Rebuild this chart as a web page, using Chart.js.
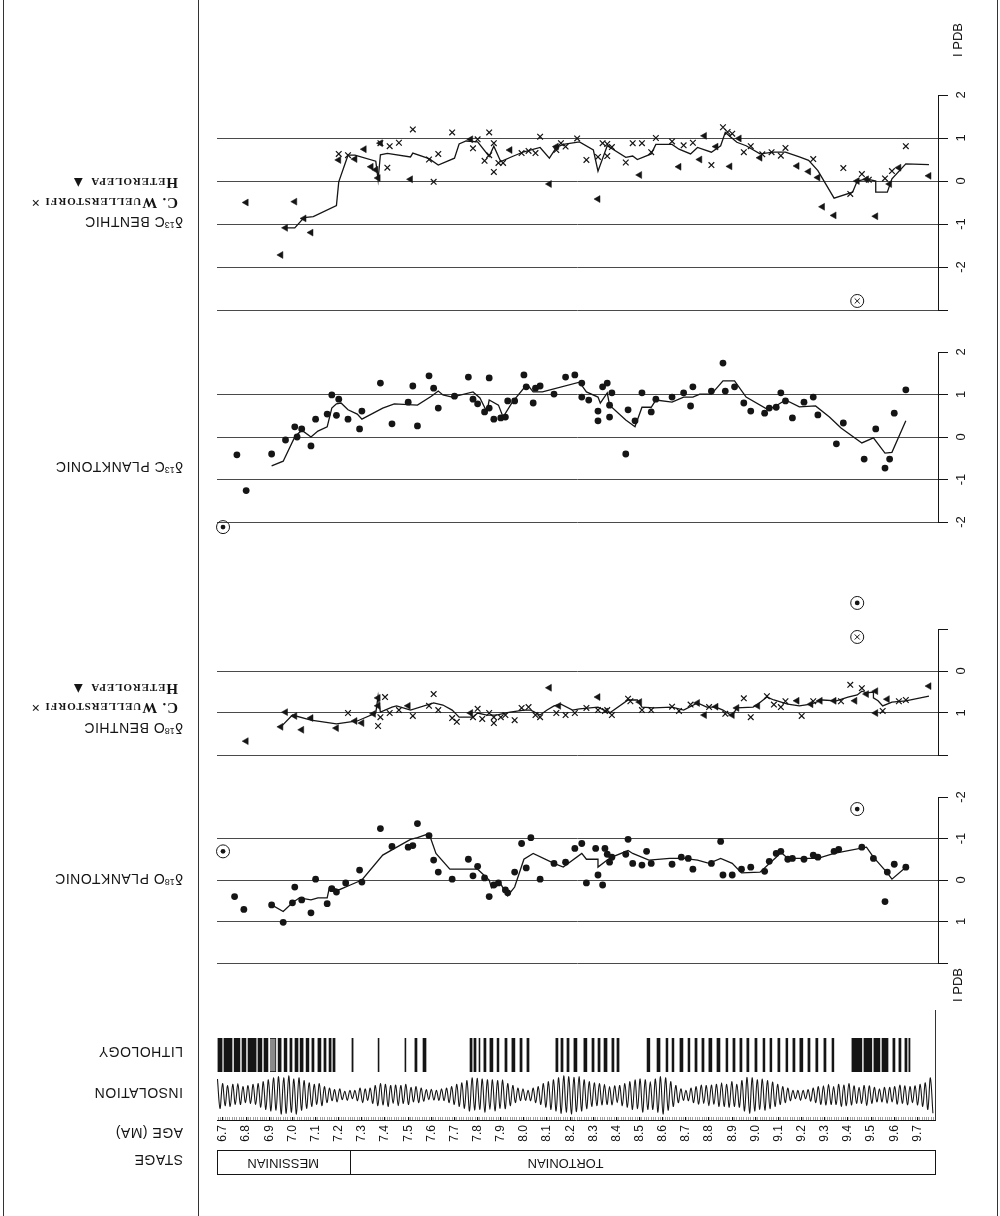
<!DOCTYPE html>
<html lang="en">
<head>
<meta charset="utf-8">
<title>Late Miocene stable isotope record</title>
<script src="https://cdn.jsdelivr.net/npm/chart.js@4.4.1/dist/chart.umd.min.js"></script>
<style>
  html, body { margin:0; padding:0; background:#fff; }
  #page { position:relative; width:1000px; height:1216px; overflow:hidden; background:#fff;
          font-family:"Liberation Sans", Arial, Helvetica, sans-serif; color:#151515; }
  #page canvas { position:absolute; left:0; }
  .rule { position:absolute; background:#333; }
  .side { position:absolute; left:0; width:183px; height:20px; line-height:20px;
          transform:rotate(180deg); white-space:nowrap; text-align:left; font-size:14px; letter-spacing:0.5px; }
  .side sup { font-size:9px; vertical-align:5px; letter-spacing:0; }
  .key { font-family:"Liberation Serif", "DejaVu Serif", serif; font-variant:small-caps; font-weight:bold;
         font-size:15px; letter-spacing:0.9px; width:178px; }
  .unit { position:absolute; width:60px; height:16px; line-height:16px; text-align:center;
          transform:rotate(-90deg); font-size:13px; }
</style>
</head>
<body>
<div id="page">
  <div class="rule" style="left:3px;top:0;width:1px;height:1216px"></div>
  <div class="rule" style="left:198px;top:0;width:1px;height:1216px"></div>
  <div class="rule" style="left:997px;top:0;width:1px;height:1216px"></div>
  <div class="rule" style="left:935px;top:1010px;width:1px;height:111px"></div>

  <canvas id="c13b" width="1000" height="265" style="top:55px"></canvas>
  <canvas id="c13p" width="1000" height="230" style="top:320px"></canvas>
  <canvas id="o18b" width="1000" height="185" style="top:585px"></canvas>
  <canvas id="o18p" width="1000" height="195" style="top:780px"></canvas>
  <canvas id="litho" width="1000" height="50" style="top:1030px"></canvas>
  <canvas id="insol" width="1000" height="50" style="top:1070px"></canvas>
  <canvas id="age" width="1000" height="100" style="top:1100px"></canvas>

  <div class="side key" style="top:173px">Heterolepa &#9650;</div>
  <div class="side key" style="top:193px">C. Wuellerstorfi &#215;</div>
  <div class="side" style="top:215px">&#948;<sup>13</sup>C BENTHIC</div>
  <div class="side" style="top:460px">&#948;<sup>13</sup>C PLANKTONIC</div>
  <div class="side key" style="top:679px">Heterolepa &#9650;</div>
  <div class="side key" style="top:698px">C. Wuellerstorfi &#215;</div>
  <div class="side" style="top:721px">&#948;<sup>18</sup>O BENTHIC</div>
  <div class="side" style="top:872px">&#948;<sup>18</sup>O PLANKTONIC</div>
  <div class="side" style="top:1042px">LITHOLOGY</div>
  <div class="side" style="top:1083px">INSOLATION</div>
  <div class="side" style="top:1123px">AGE (MA)</div>
  <div class="side" style="top:1150px">STAGE</div>

  <div class="unit" style="left:928px;top:32px">I PDB</div>
  <div class="unit" style="left:928px;top:977px">I PDB</div>
</div>

<script>
// ---- age range of all panels (Ma) ----
const AGE_MIN = 6.674;
const AGE_MAX = 9.789;

// ---- delta 13C, benthic foraminifera ----
const c13BenthicWuellerstorfi = [
  [7.20,0.63],[7.24,0.60],[7.38,0.88],[7.41,0.31],[7.42,0.81],[7.46,0.89],[7.52,1.20],[7.59,0.50],
  [7.61,-0.02],[7.63,0.63],[7.69,1.13],[7.78,0.76],[7.80,0.97],[7.83,0.47],[7.85,1.13],[7.85,0.60],
  [7.87,0.88],[7.87,0.21],[7.89,0.42],[7.91,0.42],[7.99,0.65],[8.02,0.70],[8.05,0.65],[8.07,1.03],
  [8.14,0.72],[8.16,0.88],[8.18,0.80],[8.23,0.99],[8.27,0.49],[8.32,0.56],[8.34,0.88],[8.36,0.86],
  [8.36,0.58],[8.38,0.79],[8.44,0.43],[8.47,0.88],[8.51,0.88],[8.55,0.67],[8.57,1.00],[8.64,0.92],
  [8.69,0.83],[8.73,0.89],[8.81,0.37],[8.86,1.25],[8.88,1.14],[8.90,1.10],[8.95,0.67],[8.98,0.81],
  [9.03,0.62],[9.07,0.67],[9.11,0.59],[9.13,0.77],[9.25,0.51],[9.38,0.30],[9.41,-0.30],[9.46,0.16],
  [9.49,0.03],[9.56,0.06],[9.59,0.23],[9.65,0.81]
];
const c13BenthicHeterolepa = [
  [6.80,-0.50],[6.95,-1.72],[6.97,-1.09],[7.01,-0.48],[7.05,-0.87],[7.08,-1.20],[7.20,0.49],[7.27,0.51],
  [7.31,0.74],[7.34,0.33],[7.36,0.26],[7.37,0.07],[7.38,0.88],[7.51,0.04],[7.77,0.97],[7.94,0.72],
  [8.11,-0.07],[8.14,0.80],[8.32,-0.42],[8.50,0.14],[8.67,0.33],[8.76,0.50],[8.78,1.05],[8.83,0.80],
  [8.89,0.34],[8.93,0.99],[9.02,0.54],[9.18,0.35],[9.23,0.22],[9.27,0.08],[9.29,-0.60],[9.34,-0.80],
  [9.44,0.00],[9.48,0.04],[9.52,-0.82],[9.58,-0.07],[9.62,0.31],[9.75,0.12]
];
const c13BenthicMean = [
  [6.97,-1.09],[7.01,-1.09],[7.05,-0.85],[7.09,-0.83],[7.19,-0.57],[7.20,-0.02],[7.24,0.60],[7.27,0.60],
  [7.36,0.46],[7.37,0.03],[7.38,0.61],[7.41,0.64],[7.51,0.56],[7.52,0.65],[7.59,0.52],[7.63,0.37],
  [7.70,0.53],[7.72,0.86],[7.75,0.93],[7.80,0.91],[7.85,0.57],[7.87,0.81],[7.90,0.45],[7.95,0.57],
  [8.00,0.68],[8.07,0.78],[8.11,0.53],[8.14,0.78],[8.17,0.85],[8.24,0.91],[8.30,0.72],[8.32,0.23],
  [8.36,0.82],[8.44,0.55],[8.47,0.58],[8.49,0.50],[8.55,0.63],[8.57,0.85],[8.64,0.85],[8.67,0.74],
  [8.72,0.63],[8.75,0.78],[8.81,0.67],[8.85,0.82],[8.87,1.13],[8.92,0.90],[8.96,0.82],[9.02,0.63],
  [9.08,0.67],[9.13,0.67],[9.19,0.56],[9.23,0.48],[9.27,0.24],[9.34,-0.40],[9.42,-0.26],[9.44,0.00],
  [9.48,0.05],[9.52,0.00],[9.52,-0.26],[9.57,-0.26],[9.59,0.05],[9.65,0.40],[9.75,0.38]
];
const c13BenthicOffScale = [[9.44,-2.79]];

// ---- delta 13C, planktonic foraminifera ----
const c13Planktonic = [
  [6.76,-0.42],[6.80,-1.26],[6.91,-0.40],[6.97,-0.07],[7.01,0.24],[7.02,0.00],[7.04,0.19],[7.08,-0.21],
  [7.10,0.42],[7.15,0.54],[7.17,0.99],[7.19,0.51],[7.20,0.89],[7.24,0.42],[7.29,0.19],[7.30,0.61],
  [7.38,1.27],[7.43,0.31],[7.50,0.82],[7.52,1.20],[7.54,0.26],[7.59,1.44],[7.61,1.15],[7.63,0.68],
  [7.70,0.96],[7.76,1.41],[7.78,0.89],[7.80,0.78],[7.83,0.59],[7.85,0.68],[7.85,1.39],[7.87,0.42],
  [7.90,0.45],[7.92,0.47],[7.93,0.85],[7.96,0.85],[8.00,1.46],[8.01,1.18],[8.04,0.80],[8.05,1.15],
  [8.07,1.20],[8.13,1.01],[8.18,1.41],[8.22,1.46],[8.25,1.27],[8.25,0.94],[8.28,0.87],[8.32,0.38],
  [8.32,0.61],[8.34,1.18],[8.36,1.27],[8.37,0.75],[8.37,0.47],[8.38,1.04],[8.44,-0.40],[8.45,0.64],
  [8.48,0.38],[8.51,1.04],[8.55,0.59],[8.57,0.89],[8.64,0.94],[8.69,1.04],[8.72,0.73],[8.73,1.18],
  [8.81,1.08],[8.86,1.74],[8.87,1.08],[8.91,1.18],[8.95,0.80],[8.98,0.61],[9.04,0.56],[9.06,0.68],
  [9.09,0.70],[9.11,1.04],[9.13,0.85],[9.16,0.45],[9.21,0.82],[9.25,0.94],[9.27,0.52],[9.35,-0.16],
  [9.38,0.33],[9.47,-0.52],[9.52,0.19],[9.56,-0.73],[9.58,-0.52],[9.60,0.56],[9.65,1.11]
];
const c13PlanktonicMean = [
  [6.91,-0.68],[6.96,-0.57],[7.01,0.00],[7.04,0.16],[7.08,0.00],[7.11,0.14],[7.15,0.24],[7.17,0.68],
  [7.19,0.78],[7.21,0.80],[7.24,0.64],[7.28,0.54],[7.30,0.42],[7.39,0.68],[7.44,0.78],[7.54,0.75],
  [7.60,0.96],[7.63,1.08],[7.65,0.99],[7.69,0.94],[7.78,1.06],[7.81,0.92],[7.84,0.59],[7.85,0.87],
  [7.89,0.75],[7.91,0.47],[7.95,0.82],[8.00,1.15],[8.02,1.20],[8.04,1.06],[8.08,1.06],[8.24,1.29],
  [8.27,1.06],[8.32,0.94],[8.33,0.80],[8.36,1.04],[8.37,0.75],[8.44,0.40],[8.48,0.24],[8.51,0.70],
  [8.55,0.70],[8.57,0.87],[8.64,0.82],[8.69,0.94],[8.73,0.94],[8.76,1.01],[8.81,1.01],[8.86,1.32],
  [8.91,1.32],[8.96,0.94],[9.05,0.66],[9.08,0.70],[9.13,0.87],[9.19,0.71],[9.26,0.73],[9.32,0.47],
  [9.37,0.21],[9.46,-0.14],[9.51,-0.02],[9.56,-0.38],[9.59,-0.36],[9.65,0.38]
];
const c13PlanktonicOffScale = [[6.70,-2.12]];

// ---- delta 18O, benthic foraminifera ----
const o18BenthicWuellerstorfi = [
  [7.24,1.00],[7.37,1.31],[7.38,1.10],[7.40,0.62],[7.42,1.00],[7.46,0.93],[7.52,1.07],[7.59,0.83],
  [7.61,0.55],[7.63,0.93],[7.69,1.12],[7.71,1.21],[7.78,1.10],[7.80,0.90],[7.82,1.14],[7.85,1.00],
  [7.87,1.24],[7.87,1.10],[7.90,1.10],[7.92,1.05],[7.96,1.17],[7.99,0.88],[8.02,0.86],[8.05,1.05],
  [8.07,1.10],[8.14,1.00],[8.18,1.05],[8.22,1.00],[8.27,0.88],[8.32,0.93],[8.35,0.95],[8.36,0.93],
  [8.38,1.05],[8.45,0.66],[8.46,0.72],[8.51,0.93],[8.55,0.93],[8.64,0.85],[8.67,0.95],[8.72,0.80],
  [8.80,0.86],[8.87,1.02],[8.95,0.65],[8.98,1.10],[9.05,0.60],[9.08,0.80],[9.11,0.86],[9.13,0.72],
  [9.20,1.07],[9.25,0.72],[9.37,0.72],[9.41,0.33],[9.46,0.41],[9.55,0.95],[9.62,0.72],[9.65,0.69]
];
const o18BenthicHeterolepa = [
  [6.80,1.67],[6.95,1.33],[6.97,0.98],[7.01,1.07],[7.04,1.40],[7.08,1.12],[7.19,1.36],[7.27,1.19],
  [7.30,1.24],[7.35,1.02],[7.37,0.64],[7.37,0.83],[7.50,0.83],[7.77,1.00],[8.11,0.40],[8.15,0.83],
  [8.32,0.62],[8.50,0.74],[8.75,0.76],[8.78,1.05],[8.83,0.85],[8.90,1.05],[8.92,0.88],[9.01,0.83],
  [9.18,0.71],[9.24,0.79],[9.28,0.71],[9.34,0.71],[9.43,0.71],[9.48,0.55],[9.52,0.48],[9.52,1.00],
  [9.57,0.67],[9.75,0.36]
];
const o18BenthicMean = [
  [6.95,1.33],[7.00,1.05],[7.08,1.17],[7.19,1.26],[7.28,1.19],[7.36,1.00],[7.37,0.60],[7.38,0.98],
  [7.43,0.86],[7.45,0.83],[7.51,0.93],[7.61,0.76],[7.65,0.81],[7.69,0.93],[7.72,1.10],[7.78,1.10],
  [7.80,1.00],[7.84,1.05],[7.88,1.05],[7.94,0.98],[8.00,0.93],[8.03,0.93],[8.07,1.05],[8.10,0.93],
  [8.13,0.83],[8.16,0.79],[8.21,0.93],[8.24,0.90],[8.32,0.86],[8.37,1.00],[8.45,0.69],[8.49,0.69],
  [8.51,0.86],[8.56,0.88],[8.64,0.86],[8.69,0.93],[8.75,0.76],[8.79,0.86],[8.83,0.86],[8.86,0.93],
  [8.90,1.07],[8.92,0.88],[8.99,0.86],[9.01,0.79],[9.05,0.62],[9.08,0.69],[9.14,0.79],[9.19,0.83],
  [9.24,0.79],[9.29,0.69],[9.35,0.71],[9.40,0.62],[9.44,0.57],[9.46,0.48],[9.48,0.52],[9.51,0.50],
  [9.51,0.64],[9.53,0.71],[9.55,0.83],[9.59,0.74],[9.65,0.71],[9.75,0.60]
];
const o18BenthicOffScaleCross = [[9.44,-0.81]];
const o18BenthicOffScaleDot = [[9.44,-1.62]];

// ---- delta 18O, planktonic foraminifera ----
const o18Planktonic = [
  [6.75,0.40],[6.79,0.71],[6.91,0.60],[6.96,1.02],[7.00,0.55],[7.01,0.17],[7.04,0.48],[7.08,0.79],
  [7.10,-0.02],[7.15,0.57],[7.17,0.21],[7.19,0.29],[7.23,0.07],[7.29,-0.24],[7.30,0.05],[7.38,-1.24],
  [7.43,-0.81],[7.50,-0.79],[7.52,-0.83],[7.54,-1.36],[7.59,-1.07],[7.61,-0.48],[7.63,-0.19],[7.69,-0.02],
  [7.76,-0.50],[7.78,-0.10],[7.80,-0.33],[7.83,-0.05],[7.85,0.40],[7.87,0.12],[7.89,0.07],[7.92,0.24],
  [7.93,0.31],[7.96,-0.19],[7.99,-0.88],[8.01,-0.29],[8.03,-1.02],[8.07,-0.02],[8.13,-0.40],[8.18,-0.43],
  [8.22,-0.76],[8.25,-0.88],[8.27,0.07],[8.31,-0.76],[8.32,-0.12],[8.34,0.12],[8.35,-0.76],[8.36,-0.62],
  [8.37,-0.43],[8.38,-0.55],[8.44,-0.62],[8.45,-0.98],[8.47,-0.40],[8.51,-0.36],[8.53,-0.69],[8.55,-0.40],
  [8.64,-0.38],[8.68,-0.55],[8.71,-0.52],[8.73,-0.26],[8.81,-0.40],[8.85,-0.93],[8.86,-0.12],[8.90,-0.12],
  [8.94,-0.26],[8.98,-0.31],[9.04,-0.21],[9.06,-0.45],[9.09,-0.64],[9.11,-0.69],[9.14,-0.50],[9.16,-0.52],
  [9.21,-0.50],[9.25,-0.60],[9.27,-0.55],[9.34,-0.69],[9.36,-0.74],[9.46,-0.79],[9.51,-0.52],[9.56,0.52],
  [9.57,-0.19],[9.60,-0.38],[9.65,-0.31]
];
const o18PlanktonicMean = [
  [6.91,0.60],[6.96,0.76],[7.00,0.55],[7.03,0.43],[7.08,0.48],[7.11,0.43],[7.15,0.43],[7.16,0.17],
  [7.20,0.24],[7.25,0.12],[7.30,0.00],[7.39,-0.60],[7.51,-0.98],[7.54,-1.02],[7.59,-1.12],[7.62,-0.64],
  [7.68,-0.26],[7.80,-0.26],[7.85,0.00],[7.86,0.19],[7.90,0.10],[7.93,0.38],[7.96,0.17],[8.00,-0.50],
  [8.04,-0.64],[8.13,-0.40],[8.17,-0.31],[8.25,-0.64],[8.27,-0.50],[8.32,-0.50],[8.32,-0.31],[8.36,-0.48],
  [8.38,-0.55],[8.45,-0.71],[8.47,-0.64],[8.54,-0.48],[8.63,-0.52],[8.69,-0.52],[8.75,-0.48],[8.80,-0.40],
  [8.85,-0.52],[8.90,-0.40],[8.94,-0.17],[9.02,-0.19],[9.09,-0.55],[9.11,-0.67],[9.14,-0.52],[9.20,-0.52],
  [9.27,-0.52],[9.34,-0.64],[9.48,-0.79],[9.51,-0.55],[9.57,-0.17],[9.59,-0.02],[9.65,-0.31]
];
const o18PlanktonicOffScale = [[6.70,-0.69],[9.44,-1.71]];

// ---- summer insolation anomaly (W/m2), one value per half precession cycle ----
const INSOL_START = 6.676;
const INSOL_STEP = 0.011;
const insolationAnomaly = [
   42,-35, 30,-28, 25,-30, 28,-25, 30,
  -25, 22,-20, 25,-22, 28,-25, 30,-32,
   35,-38, 40,-42, 45,-40, 48,-50, 45,
  -48, 50,-45, 42,-50, 45,-40, 38,-35,
   32,-30, 28,-25, 30,-28, 22,-20, 18,
  -15, 14,-18, 16,-12, 10,-14, 12,-10,
   12,-15, 18,-20, 16,-14, 18,-22, 25,
  -28, 30,-26, 28,-30, 25,-22, 26,-28,
   25,-22, 28,-25, 20,-18, 22,-20, 18,
  -16, 14,-12, 15,-13, 12,-14, 16,-15,
   18,-20, 22,-25, 28,-30, 32,-35, 38,
  -42, 45,-40, 44,-38, 42,-45, 40,-38,
   40,-42, 38,-35, 40,-36, 30,-28, 25,
  -20, 18,-15, 16,-14, 12,-15, 18,-20,
   22,-25, 30,-32, 35,-38, 40,-42, 45,
  -48, 50,-45, 48,-50, 46,-44, 48,-42,
   40,-36, 35,-30, 32,-28, 30,-26, 28,
  -25, 22,-26, 24,-20, 25,-28, 30,-32,
   35,-38, 40,-36, 42,-45, 40,-38, 35,
  -38, 42,-45, 48,-50, 45,-40, 35,-30,
   25,-20, 16,-14, 12,-15, 18,-20, 22,
  -24, 26,-22, 25,-28, 26,-24, 28,-30,
   32,-30, 28,-32, 35,-30, 28,-32, 38,
  -42, 46,-48, 45,-42, 40,-38, 42,-40,
   38,-36, 34,-30, 28,-25, 22,-20, 18,
  -15, 12,-10, 12,-14, 12,-10, 14,-16,
   18,-20, 22,-25, 24,-26, 28,-25, 22,
  -25, 28,-30, 26,-28, 30,-26, 24,-22,
   20,-22, 25,-28, 24,-22, 20,-18, 16,
  -18, 20,-22, 20,-18, 22,-24, 26,-22,
   24,-26, 22,-20, 24,-26, 28,-30, 32,
  -38, 45,-48
];

// ---- lithology: dark (sapropelic) beds, age intervals in Ma ----
const lithologyBeds = [
  [6.678,6.696],[6.704,6.739],[6.748,6.773],[6.782,6.799],[6.808,6.843],[6.851,6.868],[6.877,6.894],
  [6.938,6.951],[6.964,6.976],[6.989,6.998],[7.011,7.024],[7.033,7.046],[7.059,7.071],[7.084,7.093],
  [7.110,7.123],[7.136,7.145],[7.158,7.167],[7.175,7.184],
  [7.257,7.262],[7.370,7.374],[7.486,7.490],[7.529,7.538],[7.564,7.577],
  [7.767,7.776],[7.784,7.793],[7.806,7.810],[7.827,7.836],[7.853,7.866],[7.884,7.892],[7.918,7.927],
  [7.948,7.961],[7.983,7.992],[8.013,8.022],
  [8.138,8.147],[8.160,8.169],[8.186,8.195],[8.216,8.229],[8.259,8.272],[8.294,8.303],[8.320,8.329],
  [8.346,8.359],[8.380,8.389],[8.402,8.411],
  [8.532,8.544],[8.575,8.588],[8.614,8.622],[8.640,8.648],[8.674,8.687],[8.709,8.717],[8.739,8.748],
  [8.769,8.778],[8.799,8.812],[8.834,8.847],[8.873,8.881],[8.903,8.912],[8.933,8.942],[8.963,8.972],
  [8.998,9.007],[9.033,9.041],[9.063,9.071],[9.097,9.106],[9.132,9.140],[9.162,9.171],[9.192,9.205],
  [9.227,9.236],[9.261,9.270],[9.296,9.305],[9.331,9.339],
  [9.417,9.460],[9.469,9.503],[9.512,9.538],[9.547,9.573],[9.594,9.603],[9.620,9.629],[9.646,9.655],
  [9.663,9.668]
];
const lithologyStippled = [[6.903,6.929]];

// ---- chronostratigraphy ----
const stageNames = ['MESSINIAN', 'TORTONIAN'];
const stageBoundary = 7.25;
const stageLabelAges = [6.96, 8.18];

// ---------------------------------------------------------------
const INK = '#151515';
const GRID = '#4a4a4a';
const FONT = '"Liberation Sans", Arial, Helvetica, sans-serif';
const LEFT = 217;           // left edge of every plot strip
const AXIS_W = 62;          // room for the right-hand scale
const LABEL_X = 961;        // centre of the rotated scale numbers

Chart.defaults.font.family = FONT;
Chart.defaults.color = INK;

const xy = arr => arr.map(p => ({ x: p[0], y: p[1] }));

// right-hand bracket (only over the labelled span) plus rotated scale numbers
function scaleBracket(from, to, values) {
  return {
    id: 'scaleBracket',
    afterDraw(chart) {
      const s = chart.scales.y, c = chart.ctx, x = chart.chartArea.right + 0.5;
      c.save();
      c.strokeStyle = INK; c.lineWidth = 1;
      c.beginPath();
      c.moveTo(x, s.getPixelForValue(from));
      c.lineTo(x, s.getPixelForValue(to));
      c.stroke();
      c.fillStyle = INK;
      c.font = '13px ' + FONT;
      c.textAlign = 'center';
      c.textBaseline = 'middle';
      values.forEach(v => {
        c.save();
        c.translate(LABEL_X, s.getPixelForValue(v));
        c.rotate(-Math.PI / 2);
        c.fillText(String(v), 0, 0);
        c.restore();
      });
      c.restore();
    }
  };
}

const dots = (arr) => ({ data: xy(arr), pointStyle: 'circle', pointRadius: 3.4, backgroundColor: INK,
                          borderColor: INK, borderWidth: 0, showLine: false });
const crosses = (arr) => ({ data: xy(arr), pointStyle: 'crossRot', pointRadius: 4, borderColor: INK,
                             borderWidth: 1.2, showLine: false });
const triangles = (arr) => ({ data: xy(arr), pointStyle: 'triangle', rotation: -90, pointRadius: 4,
                               backgroundColor: INK, borderColor: INK, borderWidth: 0.5, showLine: false });
const meanLine = (arr) => ({ data: xy(arr), showLine: true, pointRadius: 0, borderColor: INK,
                              borderWidth: 1.3, tension: 0, fill: false });
const ring = (arr) => ({ data: xy(arr), pointStyle: 'circle', pointRadius: 6.5, backgroundColor: 'rgba(0,0,0,0)',
                          borderColor: INK, borderWidth: 1, showLine: false, clip: false });
const ringDot = (arr) => ({ data: xy(arr), pointStyle: 'circle', pointRadius: 2.4, backgroundColor: INK,
                             borderWidth: 0, showLine: false, clip: false });
const ringCross = (arr) => ({ data: xy(arr), pointStyle: 'crossRot', pointRadius: 3.6, borderColor: INK,
                               borderWidth: 1, showLine: false, clip: false });

function isotopePanel(id, cfg) {
  return new Chart(document.getElementById(id), {
    type: 'scatter',
    data: { datasets: cfg.datasets },
    options: {
      responsive: false, animation: false, devicePixelRatio: 1,
      layout: { padding: { left: LEFT, right: 0, top: cfg.padTop, bottom: cfg.padBottom } },
      plugins: { legend: { display: false }, tooltip: { enabled: false } },
      scales: {
        x: { type: 'linear', min: AGE_MIN, max: AGE_MAX, display: false },
        y: {
          type: 'linear', position: 'right', min: cfg.min, max: cfg.max, reverse: !!cfg.reverse,
          ticks: { display: false, stepSize: 1, includeBounds: false },
          grid: {
            color: ctx => (ctx.tick && ctx.tick.value === cfg.openTick) ? 'rgba(0,0,0,0)' : GRID,
            lineWidth: 1, drawTicks: true, tickLength: 10, tickColor: INK
          },
          border: { display: false },
          afterFit: s => { s.width = AXIS_W; }
        }
      }
    },
    plugins: [scaleBracket(cfg.from, cfg.to, cfg.labels)]
  });
}

// δ13C benthic
isotopePanel('c13b', {
  min: -3, max: 2, from: 2, to: -3, openTick: 2, labels: [2, 1, 0, -1, -2], padTop: 40, padBottom: 10,
  datasets: [ringCross(c13BenthicOffScale), ring(c13BenthicOffScale),
             triangles(c13BenthicHeterolepa), crosses(c13BenthicWuellerstorfi), meanLine(c13BenthicMean)]
});
// δ13C planktonic (view extends a little below the bracket for the off-scale value)
isotopePanel('c13p', {
  min: -2.3, max: 2, from: 2, to: -2, openTick: 2, labels: [2, 1, 0, -1, -2], padTop: 32, padBottom: 15.25,
  datasets: [ringDot(c13PlanktonicOffScale), ring(c13PlanktonicOffScale),
             dots(c13Planktonic), meanLine(c13PlanktonicMean)]
});
// δ18O benthic (reversed; view extends above the bracket for the off-scale values)
isotopePanel('o18b', {
  min: -1.75, max: 2, from: -1, to: 2, reverse: true, openTick: -1, labels: [0, 1], padTop: 12.5, padBottom: 15,
  datasets: [ringCross(o18BenthicOffScaleCross), ring(o18BenthicOffScaleCross),
             ringDot(o18BenthicOffScaleDot), ring(o18BenthicOffScaleDot),
             triangles(o18BenthicHeterolepa), crosses(o18BenthicWuellerstorfi), meanLine(o18BenthicMean)]
});
// δ18O planktonic (reversed)
isotopePanel('o18p', {
  min: -2, max: 2, from: -2, to: 2, reverse: true, openTick: -2, labels: [-2, -1, 0, 1], padTop: 17, padBottom: 12,
  datasets: [ringDot(o18PlanktonicOffScale), ring(o18PlanktonicOffScale),
             dots(o18Planktonic), meanLine(o18PlanktonicMean)]
});

// ---- bottom strips share a slightly shorter age window ----
const STRIP_MAX = 9.776;
const STRIP_RIGHT = 65;

// lithology
new Chart(document.getElementById('litho'), {
  type: 'bar',
  data: {
    labels: ['bed'],
    datasets: [
      { data: lithologyBeds.map(b => ({ x: b, y: 'bed' })), backgroundColor: INK, borderWidth: 0,
        barPercentage: 1, categoryPercentage: 1, grouped: false },
      { data: lithologyStippled.map(b => ({ x: b, y: 'bed' })), backgroundColor: '#8a8a8a', borderColor: INK,
        borderWidth: 1, barPercentage: 1, categoryPercentage: 1, grouped: false }
    ]
  },
  options: {
    indexAxis: 'y', responsive: false, animation: false, devicePixelRatio: 1,
    layout: { padding: { left: LEFT, right: STRIP_RIGHT, top: 8, bottom: 8 } },
    plugins: { legend: { display: false }, tooltip: { enabled: false } },
    scales: {
      x: { type: 'linear', min: AGE_MIN, max: STRIP_MAX, display: false },
      y: { type: 'category', display: false }
    }
  }
});

// insolation
new Chart(document.getElementById('insol'), {
  type: 'line',
  data: {
    datasets: [{
      data: insolationAnomaly.map((v, i) => ({ x: INSOL_START + i * INSOL_STEP, y: v })),
      borderColor: INK, borderWidth: 1.1, pointRadius: 0, tension: 0.35, fill: false
    }]
  },
  options: {
    responsive: false, animation: false, devicePixelRatio: 1,
    layout: { padding: { left: LEFT, right: STRIP_RIGHT, top: 4, bottom: 4 } },
    plugins: { legend: { display: false }, tooltip: { enabled: false } },
    scales: {
      x: { type: 'linear', min: AGE_MIN, max: STRIP_MAX, display: false },
      y: { type: 'linear', min: -55, max: 55, display: false }
    }
  }
});

// age axis and stages
const stagePlugin = {
  id: 'stages',
  afterDraw(chart) {
    const xs = chart.scales.x, c = chart.ctx;
    const top = 50, bottom = 74;
    c.save();
    c.strokeStyle = INK; c.lineWidth = 1;
    c.strokeRect(xs.left + 0.5, top + 0.5, xs.right - xs.left, bottom - top);
    const bx = Math.round(xs.getPixelForValue(stageBoundary)) + 0.5;
    c.beginPath(); c.moveTo(bx, top); c.lineTo(bx, bottom); c.stroke();
    c.fillStyle = INK;
    c.font = '13px ' + FONT;
    c.textAlign = 'center'; c.textBaseline = 'middle';
    stageNames.forEach((name, i) => {
      c.save();
      c.translate(xs.getPixelForValue(stageLabelAges[i]), (top + bottom) / 2 + 1);
      c.rotate(Math.PI);
      c.fillText(name, 0, 0);
      c.restore();
    });
    c.restore();
  }
};

const isTenth = v => Math.abs(v * 10 - Math.round(v * 10)) < 1e-6;

new Chart(document.getElementById('age'), {
  type: 'scatter',
  data: { datasets: [{ data: [] }] },
  options: {
    responsive: false, animation: false, devicePixelRatio: 1,
    layout: { padding: { left: LEFT, right: STRIP_RIGHT, top: 17, bottom: 50 } },
    plugins: { legend: { display: false }, tooltip: { enabled: false } },
    scales: {
      x: {
        type: 'linear', position: 'bottom', min: AGE_MIN, max: STRIP_MAX,
        ticks: {
          stepSize: 0.01, autoSkip: false, includeBounds: false, minRotation: 90, maxRotation: 90,
          padding: 5, font: { size: 12 }, color: INK,
          callback: v => isTenth(v) ? (Math.round(v * 10) / 10).toFixed(1) : ''
        },
        grid: {
          drawOnChartArea: true, drawTicks: false,
          color: ctx => (ctx.tick && isTenth(ctx.tick.value)) ? INK : '#777',
          lineWidth: ctx => (ctx.tick && isTenth(ctx.tick.value)) ? 1.2 : 0.7
        },
        border: { display: true, color: INK, width: 1 },
        afterFit: s => { s.height = 30; }
      },
      y: { type: 'linear', min: 0, max: 1, display: false }
    }
  },
  plugins: [stagePlugin]
});
</script>
</body>
</html>
